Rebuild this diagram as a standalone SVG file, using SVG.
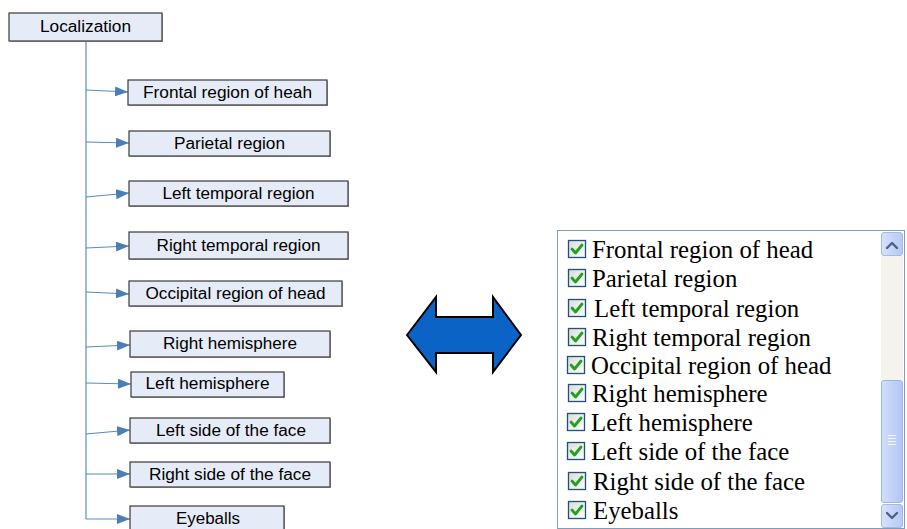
<svg xmlns="http://www.w3.org/2000/svg" width="907" height="529" viewBox="0 0 907 529">
<defs>
<style>
.box{fill:#e6ecf7;stroke:#3a3a3a;stroke-width:1.2}
.shadow{fill:#b0b0b0}
.lbl{font-family:"Liberation Sans",Arial,sans-serif;font-size:16px;fill:#000;text-anchor:middle}
.conn{stroke:#5a8ac8;stroke-width:1.2;fill:none}
.item{font-family:"Liberation Serif","Times New Roman",serif;font-size:24.8px;fill:#000}
.cb{fill:url(#cbg);stroke:#1c5180;stroke-width:1.3}
.chk{fill:none;stroke:#21a121;stroke-width:2.8;stroke-linecap:round;stroke-linejoin:round}
.sbtn{fill:url(#btng);stroke:#a6b8e4;stroke-width:1}
.chev{fill:none;stroke:#4d6185;stroke-width:2.4;stroke-linecap:round;stroke-linejoin:round}
</style>
<marker id="ah" markerUnits="userSpaceOnUse" markerWidth="14" markerHeight="11" refX="13" refY="5" orient="auto">
<path d="M0,0 L13,5 L0,10 z" fill="#4a7ebb"/>
</marker>
<linearGradient id="cbg" x1="0" y1="0" x2="1" y2="1">
<stop offset="0" stop-color="#dcdcd6"/>
<stop offset="1" stop-color="#ffffff"/>
</linearGradient>
<linearGradient id="btng" x1="0" y1="0" x2="1" y2="0">
<stop offset="0" stop-color="#d6e1fc"/>
<stop offset="1" stop-color="#b6c8f4"/>
</linearGradient>
<linearGradient id="thg" x1="0" y1="0" x2="1" y2="0">
<stop offset="0" stop-color="#d2defc"/>
<stop offset="1" stop-color="#b2c5f3"/>
</linearGradient>
</defs>
<rect width="907" height="529" fill="#ffffff"/>

<g id="connectors">
<line class="conn" x1="86" y1="41" x2="86" y2="519"/>
<line class="conn" x1="86" y1="90" x2="128" y2="92" marker-end="url(#ah)"/>
<line class="conn" x1="86" y1="142" x2="129" y2="143" marker-end="url(#ah)"/>
<line class="conn" x1="86" y1="197" x2="129" y2="193" marker-end="url(#ah)"/>
<line class="conn" x1="86" y1="248" x2="129" y2="246" marker-end="url(#ah)"/>
<line class="conn" x1="86" y1="292" x2="129" y2="294" marker-end="url(#ah)"/>
<line class="conn" x1="86" y1="347" x2="130" y2="345" marker-end="url(#ah)"/>
<line class="conn" x1="86" y1="383" x2="131" y2="384" marker-end="url(#ah)"/>
<line class="conn" x1="86" y1="434" x2="130" y2="430" marker-end="url(#ah)"/>
<line class="conn" x1="86" y1="474" x2="130" y2="474" marker-end="url(#ah)"/>
<line class="conn" x1="86" y1="519" x2="130" y2="519" marker-end="url(#ah)"/>
</g>

<g id="n-localization">
<rect class="shadow" x="10" y="14" width="153" height="28"/>
<rect class="box" x="9" y="13" width="153" height="28"/>
<text class="lbl" x="85.5" y="32" textLength="91" lengthAdjust="spacingAndGlyphs">Localization</text>
</g>
<g id="n-frontal">
<rect class="shadow" x="129" y="81" width="199" height="25"/>
<rect class="box" x="128" y="80" width="199" height="25"/>
<text class="lbl" x="227.5" y="97.5" textLength="169" lengthAdjust="spacingAndGlyphs">Frontal region of heah</text>
</g>
<g id="n-parietal">
<rect class="shadow" x="130" y="132" width="201" height="25"/>
<rect class="box" x="129" y="131" width="201" height="25"/>
<text class="lbl" x="229.5" y="148.5" textLength="111" lengthAdjust="spacingAndGlyphs">Parietal region</text>
</g>
<g id="n-lefttemporal">
<rect class="shadow" x="130" y="182" width="219" height="25"/>
<rect class="box" x="129" y="181" width="219" height="25"/>
<text class="lbl" x="238.5" y="198.5" textLength="152" lengthAdjust="spacingAndGlyphs">Left temporal region</text>
</g>
<g id="n-righttemporal">
<rect class="shadow" x="130" y="233" width="219" height="27"/>
<rect class="box" x="129" y="232" width="219" height="27"/>
<text class="lbl" x="238.5" y="250.5" textLength="164" lengthAdjust="spacingAndGlyphs">Right temporal region</text>
</g>
<g id="n-occipital">
<rect class="shadow" x="130" y="282" width="213" height="25"/>
<rect class="box" x="129" y="281" width="213" height="25"/>
<text class="lbl" x="235.5" y="298.5" textLength="180" lengthAdjust="spacingAndGlyphs">Occipital region of head</text>
</g>
<g id="n-righthemisphere">
<rect class="shadow" x="131" y="332" width="200" height="26"/>
<rect class="box" x="130" y="331" width="200" height="26"/>
<text class="lbl" x="230" y="349" textLength="134" lengthAdjust="spacingAndGlyphs">Right hemisphere</text>
</g>
<g id="n-lefthemisphere">
<rect class="shadow" x="132" y="373" width="153" height="25"/>
<rect class="box" x="131" y="372" width="153" height="25"/>
<text class="lbl" x="207.5" y="389" textLength="124" lengthAdjust="spacingAndGlyphs">Left hemisphere</text>
</g>
<g id="n-leftside">
<rect class="shadow" x="131" y="419" width="200" height="25"/>
<rect class="box" x="130" y="418" width="200" height="25"/>
<text class="lbl" x="231" y="435.5" textLength="150" lengthAdjust="spacingAndGlyphs">Left side of the face</text>
</g>
<g id="n-rightside">
<rect class="shadow" x="131" y="463" width="200" height="25"/>
<rect class="box" x="130" y="462" width="200" height="25"/>
<text class="lbl" x="230" y="479.5" textLength="162" lengthAdjust="spacingAndGlyphs">Right side of the face</text>
</g>
<g id="n-eyeballs">
<rect class="shadow" x="131" y="507" width="154" height="26"/>
<rect class="box" x="130" y="506" width="154" height="26"/>
<text class="lbl" x="208" y="524" textLength="64" lengthAdjust="spacingAndGlyphs">Eyeballs</text>
</g>

<g id="double-arrow">
<polygon points="407,335 436,297 436,317 493,317 493,297 521,335 493,372 493,353 436,353 436,372" fill="#0b63c6" stroke="#000" stroke-width="2" stroke-linejoin="miter"/>
</g>

<g id="listbox">
<rect x="557.5" y="230.5" width="347" height="298" fill="#fff" stroke="#7f9db9" stroke-width="1"/>
<rect x="881" y="256" width="22" height="124" fill="#f4f3ee"/>
<rect class="sbtn" x="881.5" y="232.5" width="21" height="23" rx="2.5"/>
<polyline class="chev" points="887,248 892,243 897,248"/>
<rect x="881.5" y="380.5" width="21" height="122" rx="2.5" fill="url(#thg)" stroke="#9eb3e8" stroke-width="1"/>
<g stroke="#f2f5ff" stroke-width="1">
<line x1="888" y1="435.5" x2="896" y2="435.5"/>
<line x1="888" y1="438.5" x2="896" y2="438.5"/>
<line x1="888" y1="441.5" x2="896" y2="441.5"/>
<line x1="888" y1="444.5" x2="896" y2="444.5"/>
</g>
<rect class="sbtn" x="881.5" y="504.5" width="21" height="23" rx="2.5"/>
<polyline class="chev" points="887,513 892,518 897,513"/>

<g id="item1"><rect class="cb" x="568.5" y="240.5" width="17" height="17"/><polyline class="chk" points="572,249 575.5,253 582,245"/><text class="item" x="592" y="258">Frontal region of head</text></g>
<g id="item2"><rect class="cb" x="568.5" y="269.5" width="17" height="17"/><polyline class="chk" points="572,278 575.5,282 582,274"/><text class="item" x="592" y="287">Parietal region</text></g>
<g id="item3"><rect class="cb" x="568.5" y="299.5" width="17" height="17"/><polyline class="chk" points="572,308 575.5,312 582,304"/><text class="item" x="594" y="317">Left temporal region</text></g>
<g id="item4"><rect class="cb" x="568.5" y="328.5" width="17" height="17"/><polyline class="chk" points="572,337 575.5,341 582,333"/><text class="item" x="592" y="346">Right temporal region</text></g>
<g id="item5"><rect class="cb" x="567.5" y="356.5" width="17" height="17"/><polyline class="chk" points="571,365 574.5,369 581,361"/><text class="item" x="591" y="374">Occipital region of head</text></g>
<g id="item6"><rect class="cb" x="568.5" y="384.5" width="17" height="17"/><polyline class="chk" points="572,393 575.5,397 582,389"/><text class="item" x="592" y="402">Right hemisphere</text></g>
<g id="item7"><rect class="cb" x="567.5" y="413.5" width="17" height="17"/><polyline class="chk" points="571,422 574.5,426 581,418"/><text class="item" x="591" y="431">Left hemisphere</text></g>
<g id="item8"><rect class="cb" x="567.5" y="442.5" width="17" height="17"/><polyline class="chk" points="571,451 574.5,455 581,447"/><text class="item" x="591" y="460">Left side of the face</text></g>
<g id="item9"><rect class="cb" x="568.5" y="472.5" width="17" height="17"/><polyline class="chk" points="572,481 575.5,485 582,477"/><text class="item" x="593" y="490">Right side of the face</text></g>
<g id="item10"><rect class="cb" x="568.5" y="501.5" width="17" height="17"/><polyline class="chk" points="572,510 575.5,514 582,506"/><text class="item" x="593" y="519">Eyeballs</text></g>
</g>
</svg>
